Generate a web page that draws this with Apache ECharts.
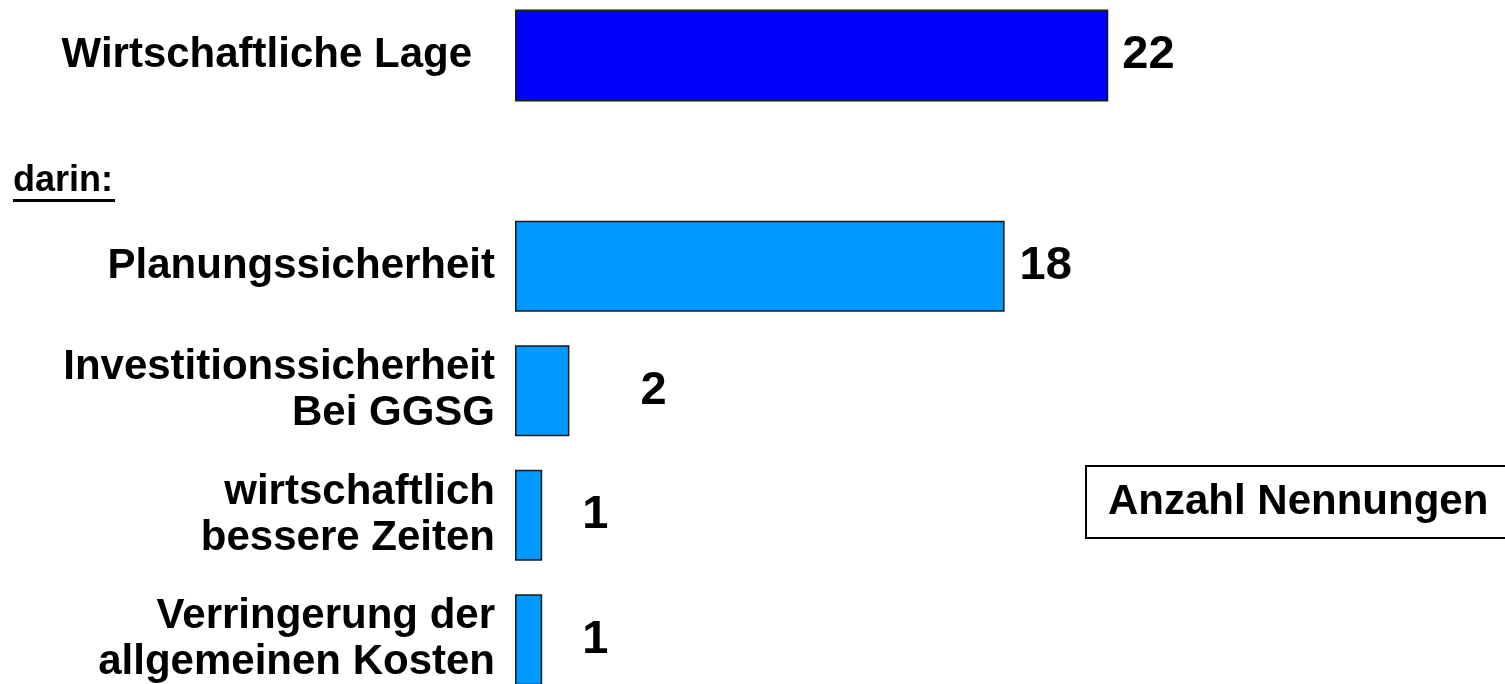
<!DOCTYPE html>
<html>
<head>
<meta charset="utf-8">
<title>Wirtschaftliche Lage</title>
<script src="https://cdn.jsdelivr.net/npm/echarts@6/dist/echarts.min.js"></script>
<style>
  html, body { margin: 0; padding: 0; background: #fff; }
  #chart { width: 1505px; height: 684px; }
</style>
</head>
<body>
<div id="chart"></div>
<script>
// Daten
var topCategories = ['Wirtschaftliche Lage'];
var topValues = [22];
var subCategories = [
  'Planungssicherheit',
  'Investitionssicherheit\nBei GGSG',
  'wirtschaftlich\nbessere Zeiten',
  'Verringerung der\nallgemeinen Kosten'
];
var subValues = [18, 2, 1, 1];

// Abstand der Wertbeschriftung zum Balken (wie im Original, unregelmäßig)
var topLabelGap = [14];
var subLabelGap = [15, 71, 40, 40];

var fontFamily = 'Arial, "Liberation Sans", Helvetica, sans-serif';

function withGap(values, gaps) {
  return values.map(function (v, i) {
    return { value: v, label: { distance: gaps[i] } };
  });
}

var chart = echarts.init(document.getElementById('chart'));

var axisLabelStyle = {
  fontSize: 42,
  fontWeight: 'bold',
  color: '#000',
  fontFamily: fontFamily,
  lineHeight: 46,
  align: 'right'
};

var valueLabel = {
  show: true,
  position: 'right',
  fontSize: 47,
  fontWeight: 'bold',
  color: '#000',
  fontFamily: fontFamily
};

var option = {
  backgroundColor: '#fff',
  animation: false,
  grid: [
    { left: 515, top: 0, width: 809, height: 111, outerBoundsMode: 'none', containLabel: false },
    { left: 515, top: 204, width: 816, height: 498, outerBoundsMode: 'none', containLabel: false }
  ],
  xAxis: [
    { type: 'value', gridIndex: 0, min: 0, max: 30, show: false },
    { type: 'value', gridIndex: 1, min: 0, max: 30, show: false }
  ],
  yAxis: [
    {
      type: 'category', gridIndex: 0, data: topCategories, inverse: true,
      axisLine: { show: false }, axisTick: { show: false },
      axisLabel: Object.assign({ margin: 43 }, axisLabelStyle)
    },
    {
      type: 'category', gridIndex: 1, data: subCategories, inverse: true,
      axisLine: { show: false }, axisTick: { show: false },
      axisLabel: Object.assign({ margin: 20 }, axisLabelStyle)
    }
  ],
  series: [
    {
      type: 'bar',
      xAxisIndex: 0,
      yAxisIndex: 0,
      barWidth: 92,
      itemStyle: { color: '#0000FF', borderColor: '#1a1a1a', borderWidth: 1.5 },
      label: valueLabel,
      data: withGap(topValues, topLabelGap)
    },
    {
      type: 'bar',
      xAxisIndex: 1,
      yAxisIndex: 1,
      barWidth: 91,
      itemStyle: { color: '#0099FF', borderColor: '#1a1a1a', borderWidth: 1.5 },
      label: valueLabel,
      data: withGap(subValues, subLabelGap)
    }
  ],
  graphic: [
    {
      type: 'text',
      left: 13,
      top: 163,
      style: {
        text: 'darin:',
        fontSize: 36,
        fontWeight: 'bold',
        fontFamily: fontFamily,
        fill: '#000'
      }
    },
    {
      type: 'rect',
      shape: { x: 13, y: 199, width: 102, height: 3 },
      style: { fill: '#000' }
    },
    {
      type: 'rect',
      shape: { x: 1086, y: 466, width: 440, height: 72 },
      style: { fill: '#fff', stroke: '#000', lineWidth: 2 }
    },
    {
      type: 'text',
      x: 1108,
      y: 502,
      style: {
        text: 'Anzahl Nennungen',
        fontSize: 42,
        fontWeight: 'bold',
        fontFamily: fontFamily,
        fill: '#000',
        verticalAlign: 'middle'
      }
    }
  ]
};

chart.setOption(option);
</script>
</body>
</html>
